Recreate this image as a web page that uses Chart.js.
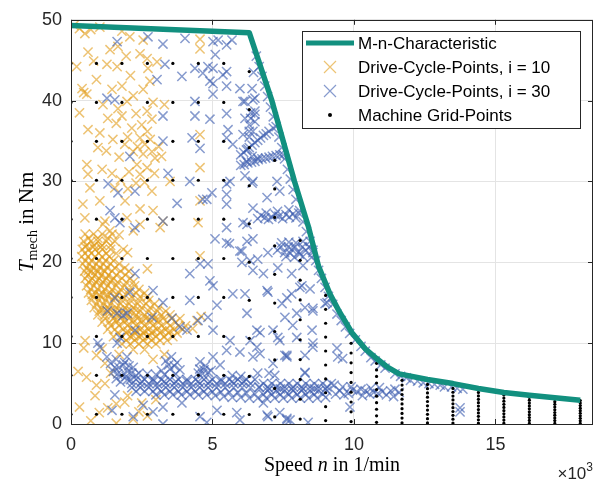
<!DOCTYPE html>
<html>
<head>
<meta charset="utf-8">
<script src="https://cdn.jsdelivr.net/npm/chart.js@4"></script>
<style>
  html, body { margin: 0; padding: 0; background: #fff; }
</style>
</head>
<body>
<canvas id="mnChart" width="605" height="481"></canvas>
<script>
// M-n characteristic (speed in 1/min x 10^3, torque in Nm)
const charSpeed  = [0, 6.3, 7.1, 7.9, 8.4, 8.75, 9.15, 9.5, 9.93, 10.4, 10.8, 11.2, 11.6, 12.6, 13.5, 14.4, 15.3, 16.2, 17.1, 18.0];
const charTorque = [49.3, 48.4, 40, 30, 24.3, 19.5, 16.1, 13.8, 11.3, 9.3, 8.1, 7.0, 6.2, 5.5, 5.0, 4.4, 3.9, 3.55, 3.25, 2.95];

// machine grid: speed columns, top torque per column, relative torque rows
const gridSpeeds = [0, 0.9, 1.8, 2.7, 3.6, 4.5, 5.4, 6.3, 7.2, 8.1, 9.0, 9.9, 10.8, 11.7, 12.6, 13.5, 14.4, 15.3, 16.2, 17.1, 18.0];
const gridTops   = [44.6, 44.6, 44.6, 44.6, 44.6, 44.6, 44.6, 43.6, 32.6, 22.7, 15.9, 11.2, 7.5, 5.4, 4.9, 4.4, 3.9, 3.6, 3.3, 3.1, 2.9];
const gridFractions = [0.027, 0.135, 0.243, 0.351, 0.459, 0.568, 0.676, 0.784, 0.892, 1.0];

// drive cycle points, gear ratio i = 10
const cycle10 = [
  [0.1,49.3],[0.3,48.9],[0.7,48.8],[0.49,48.3],[1.02,49.1],[1.8,48.6],[2.08,47.9],[2.55,47.5],[0.6,46.0],[1.38,46.3],
  [1.66,46.7],[2.44,45.8],[2.69,45.2],[4.56,46.4],[4.56,47.6],[0.2,44.2],[1.27,44.5],[1.63,44.2],[2.72,44.0],[3.04,44.8],
  [2.1,43.1],[0.9,42.6],[0.39,41.5],[0.56,40.8],[0.45,41.0],[1.45,41.4],[1.8,41.8],[2.55,41.4],[2.79,42.4],[1.13,39.5],
  [1.66,39.0],[1.98,39.9],[2.69,38.7],[1.8,38.1],[2.86,37.7],[3.3,39.5],[0.6,36.4],[1.02,36.0],[2.15,36.6],[1.48,35.2],
  [2.44,35.4],[2.61,34.6],[2.86,33.7],[2.97,32.9],[2.55,33.4],[2.2,33.7],[2.33,32.1],[2.69,31.7],[2.44,30.9],[2.8,35.2],
  [3.1,34.3],[1.9,34.6],[0.56,32.1],[0.6,30.9],[1.1,31.5],[1.45,31.0],[0.67,29.2],[1.55,29.2],[2.01,29.1],[2.86,28.8],
  [4.56,31.7],[4.56,35.8],[0.42,27.2],[1.02,27.6],[1.91,27.6],[2.44,26.6],[2.9,26.4],[0.49,25.5],[1.13,24.7],[1.2,25.1],
  [1.38,23.9],[1.98,25.5],[2.2,23.9],[2.44,24.7],[3.15,24.3],[3.25,25.1],[4.49,24.9],[4.56,27.6],[0.3,38.5],[3.5,30.0],
  [1.7,33.0],[2.3,38.4],[2.5,37.0],[2.0,35.5],[2.35,34.3],[2.7,36.2],[1.6,37.2],[2.2,40.6],[2.9,39.8],[1.25,33.8],
  [2.05,31.2],[2.6,29.9],[1.75,30.2],[0.95,34.2],[1.3,37.8],[2.95,31.0],[3.2,33.1],[0.8,44.9],[1.95,45.5],[2.3,29.8],
  [0.5,23.5],[0.8,23.5],[1.1,23.5],[1.45,23.5],
  [0.45,22.6],[0.7,22.6],[0.95,22.6],[1.25,22.6],[1.55,22.6],
  [0.4,21.6],[0.62,21.6],[0.85,21.6],[1.1,21.6],[1.4,21.6],[1.85,21.6],
  [0.38,20.7],[0.6,20.7],[0.85,20.7],[1.1,20.7],[1.35,20.7],
  [0.42,19.8],[0.65,19.8],[0.9,19.8],[1.15,19.8],[1.4,19.8],[1.7,19.8],
  [0.48,18.9],[0.72,18.9],[0.95,18.9],[1.2,18.9],[1.45,18.9],[1.75,18.9],[2.05,18.9],
  [0.5,18.0],[0.75,18.0],[1.0,18.0],[1.25,18.0],[1.5,18.0],[1.8,18.0],[2.1,18.0],
  [0.55,17.1],[0.8,17.1],[1.05,17.1],[1.3,17.1],[1.6,17.1],[1.9,17.1],[2.25,17.1],
  [0.62,16.2],[0.88,16.2],[1.12,16.2],[1.4,16.2],[1.7,16.2],[2.0,16.2],[2.3,16.2],[2.6,16.2],
  [0.72,15.3],[0.98,15.3],[1.22,15.3],[1.5,15.3],[1.8,15.3],[2.1,15.3],[2.4,15.3],[2.75,15.3],
  [0.82,14.4],[1.08,14.4],[1.32,14.4],[1.6,14.4],[1.9,14.4],[2.2,14.4],[2.5,14.4],[2.8,14.4],[3.1,14.4],
  [0.95,13.5],[1.2,13.5],[1.45,13.5],[1.7,13.5],[2.0,13.5],[2.3,13.5],[2.6,13.5],[2.9,13.5],[3.2,13.5],[3.5,13.5],
  [1.1,12.6],[1.35,12.6],[1.6,12.6],[1.9,12.6],[2.2,12.6],[2.5,12.6],[2.8,12.6],[3.1,12.6],[3.4,12.6],[3.7,12.6],
  [1.3,11.7],[1.55,11.7],[1.85,11.7],[2.15,11.7],[2.45,11.7],[2.75,11.7],[3.05,11.7],[3.35,11.7],[3.65,11.7],[3.95,11.7],
  [1.5,10.8],[1.8,10.8],[2.1,10.8],[2.4,10.8],[2.7,10.8],[3.0,10.8],[3.3,10.8],[3.6,10.8],
  [1.8,9.9],[2.1,9.9],[2.4,9.9],[2.7,9.9],[3.0,9.9],[2.2,9.2],[2.6,9.2],
  [0.62,23.0],[0.95,23.0],[1.3,23.0],
  [0.55,22.1],[0.82,22.1],[1.1,22.1],[1.4,22.1],
  [0.5,21.1],[0.72,21.1],[0.98,21.1],[1.25,21.1],[1.6,21.1],
  [0.5,20.2],[0.72,20.2],[0.98,20.2],[1.22,20.2],[1.5,20.2],
  [0.55,19.3],[0.78,19.3],[1.02,19.3],[1.28,19.3],[1.55,19.3],[1.9,19.3],
  [0.6,18.45],[0.85,18.45],[1.08,18.45],[1.32,18.45],[1.6,18.45],[1.92,18.45],
  [0.62,17.55],[0.88,17.55],[1.12,17.55],[1.4,17.55],[1.65,17.55],[1.95,17.55],[2.2,17.55],
  [0.7,16.65],[0.95,16.65],[1.2,16.65],[1.45,16.65],[1.75,16.65],[2.05,16.65],[2.4,16.65],
  [0.78,15.75],[1.05,15.75],[1.3,15.75],[1.55,15.75],[1.85,15.75],[2.15,15.75],[2.45,15.75],[2.7,15.75],
  [0.9,14.85],[1.15,14.85],[1.4,14.85],[1.75,14.85],[2.05,14.85],[2.35,14.85],[2.65,14.85],[2.95,14.85],
  [1.0,13.95],[1.3,13.95],[1.55,13.95],[1.85,13.95],[2.15,13.95],[2.45,13.95],[2.75,13.95],[3.05,13.95],[3.35,13.95],
  [1.2,13.05],[1.5,13.05],[1.75,13.05],[2.05,13.05],[2.35,13.05],[2.65,13.05],[2.95,13.05],[3.25,13.05],[3.55,13.05],[3.85,13.05],
  [1.4,12.15],[1.7,12.15],[2.0,12.15],[2.3,12.15],[2.6,12.15],[2.9,12.15],[3.2,12.15],[3.5,12.15],[3.8,12.15],[4.05,12.15],
  [1.65,11.25],[1.95,11.25],[2.25,11.25],[2.55,11.25],[2.85,11.25],[3.15,11.25],[3.45,11.25],[3.75,11.25],
  [1.95,10.35],[2.25,10.35],[2.55,10.35],[2.85,10.35],[3.15,10.35],[3.4,10.35],
  [0.5,21.9],[0.78,21.9],[1.05,21.9],[0.62,19.0],[0.88,19.0],[1.15,19.0],
  [0.7,17.8],[0.95,17.8],[1.2,17.8],[1.45,17.8],[0.75,16.0],[1.0,16.0],[1.28,16.0],[1.6,16.0],
  [1.1,14.1],[1.4,14.1],[1.7,14.1],[2.0,14.1],[2.3,14.1],[1.6,12.9],[1.9,12.9],[2.2,12.9],[2.5,12.9],[2.8,12.9],[3.1,12.9],
  [2.0,11.5],[2.3,11.5],[2.6,11.5],[2.9,11.5],[3.2,11.5],[3.5,11.5],[2.2,10.9],[2.5,10.9],[2.8,10.9],
  [4.45,12.8],[4.3,11.8],[4.6,13.3],[2.7,19.2],[2.0,21.2],[4.56,20.8],[1.7,23.4],
  [0.5,10.3],[0.45,9.4],[0.55,5.8],[0.9,4.8],[0.85,3.5],[1.0,1.4],[1.6,0.1],[1.9,2.7],[1.6,2.5],[2.4,1.5],
  [2.5,2.6],[0.3,2.1],[1.3,2.0],[0.9,8.5],[1.2,7.5],[1.4,6.3],[1.7,8.6],[2.0,3.5],[0.25,6.5],[0.7,0.4],
  [2.7,1.0],[3.0,3.0],[1.2,5.0],[2.2,0.6],[1.1,9.3],[2.9,8.0],[3.3,8.6]
];

// drive cycle points, gear ratio i = 30
const cycle30 = [
  [1.63,47.3],[2.72,47.9],[3.25,47.0],[4.03,47.7],[5.2,47.5],[5.5,46.9],[5.69,47.5],[5.02,47.3],[5.1,45.7],[3.32,44.5],
  [3.04,42.6],[3.92,43.0],[4.38,44.0],[4.66,43.4],[4.84,44.2],[4.91,42.4],[5.02,42.1],[5.02,40.8],[5.5,43.6],[5.5,41.8],
  [5.97,41.5],[6.15,39.9],[6.5,40.3],[6.5,38.7],[5.02,44.0],[5.37,43.2],[1.27,40.3],[1.55,40.1],[3.25,38.1],[4.38,39.9],
  [4.38,38.1],[4.91,37.7],[5.5,38.4],[5.55,36.4],[3.25,35.0],[4.28,35.4],[4.56,34.1],[5.5,35.4],[5.72,34.6],[6.08,39.9],
  [6.43,40.1],[6.15,37.8],[6.5,38.3],[6.08,35.8],[6.5,37.4],[6.43,36.2],[6.4,33.1],[6.6,32.9],
  [2.08,33.1],[3.43,31.0],[4.2,30.0],[1.31,29.7],[1.66,28.6],[2.26,28.8],[3.75,27.3],[4.66,27.8],[4.98,28.6],[5.5,28.4],
  [5.5,27.2],[5.62,30.0],[6.4,29.8],[6.43,26.7],[1.38,26.4],[1.55,25.5],[1.73,24.9],[2.26,24.3],[3.25,25.1],[5.5,24.3],
  [6.22,24.7],[7.28,30.0],[6.43,30.0],[5.5,29.7],[6.15,30.7],[7.38,28.8],[6.93,28.0],[6.08,24.9],[6.43,22.9],[6.04,21.4],
  [5.09,22.9],[4.8,27.8],
  [6.0,33.3],[6.2,33.9],[6.4,34.5],[6.6,35.1],[6.8,35.7],[7.0,36.2],[7.15,36.6],
  [6.1,33.6],[6.3,34.2],[6.5,34.8],[6.7,35.4],[6.9,35.9],
  [6.0,32.0],[6.25,32.3],[6.5,32.5],[6.75,32.8],[7.0,33.0],[7.25,33.2],[7.5,33.3],
  [6.12,32.1],[6.38,32.4],[6.62,32.7],[6.88,32.9],[7.12,33.1],[7.38,33.3],
  [6.2,32.5],[6.25,34.0],[6.3,35.5],[6.3,37.0],[6.35,38.5],[6.4,41.5],[6.45,43.5],[6.3,36.2],[6.35,37.8],
  [6.6,25.4],[6.85,25.5],[7.1,25.6],[7.35,25.7],[7.6,25.9],[7.85,26.0],[8.05,26.1],[6.9,26.1],[7.3,26.3],[7.7,26.5],
  [6.72,25.8],[6.98,25.3],[7.22,25.9],[7.48,25.4],[7.72,25.6],[7.95,25.5],
  [7.3,21.5],[7.55,21.2],[7.8,21.6],[8.05,21.3],[8.3,21.5],[8.55,21.2],[7.45,22.4],[7.7,22.5],[7.95,22.4],[8.2,22.6],
  [7.6,20.7],[7.9,20.6],[8.2,20.7],[8.5,20.6],[7.42,21.9],[7.68,21.9],[7.92,21.9],[8.18,21.9],[8.42,21.9],[7.75,21.1],[8.08,21.0],
  [6.55,45.5],[6.75,43.0],[6.95,40.5],[7.15,38.0],[7.35,35.5],[7.55,32.8],[7.75,30.3],[7.95,27.8],[8.2,25.0],[8.45,22.6],
  [8.65,20.2],[8.85,18.0],[9.1,15.8],[9.4,13.6],[9.7,12.0],[10.05,10.4],[10.4,9.0],[10.75,7.8],[11.1,6.9],[11.45,6.2],
  [11.85,5.7],[12.25,5.3],[12.65,5.0],[13.05,4.8],[13.45,4.6],[13.85,4.3],[8.55,21.5],[9.25,14.8],[9.85,11.2],[10.6,8.2],
  [12.0,5.4],[13.2,4.6],[6.65,44.2],[6.85,41.8],[7.05,39.2],[7.25,36.8],[7.45,34.2],[7.65,31.5],[7.85,29.0],[8.08,26.4],
  [8.32,23.8],[8.75,19.0],[8.98,16.9],[9.55,12.8],[10.25,9.6],[10.95,7.3],[11.65,5.9],[12.45,5.1],[12.85,4.9],[13.65,4.4],
  [7.63,15.6],[8.09,16.9],[8.45,16.7],[8.27,14.4],[7.56,13.2],[7.84,12.2],[8.55,14.0],[8.52,11.6],[7.98,10.7],[8.55,9.5],
  [8.27,8.5],[7.56,8.5],[8.27,6.3],[9.43,8.3],[9.6,8.1],[9.86,2.1],[13.75,1.5],[13.75,2.0],[9.05,15.0],[7.46,14.9],
  [8.38,0.2],[7.63,0.7],
  [2.26,18.6],[2.08,16.3],[1.55,15.6],[1.63,13.7],[1.28,14.0],[1.84,13.4],[1.98,13.7],[2.26,11.6],[1.73,10.7],[1.63,10.0],
  [2.86,13.2],[2.9,16.5],[3.25,15.0],[3.57,13.1],[3.85,12.0],[4.2,15.3],[4.2,18.6],[4.56,19.8],[4.84,19.8],[4.91,17.7],
  [5.02,17.1],[5.5,22.4],[5.6,22.3],[5.97,21.4],[6.22,22.6],[6.04,20.0],[6.43,19.0],[6.33,20.2],[6.8,18.6],[6.93,16.5],
  [5.72,16.1],[6.15,16.1],[6.22,13.7],[5.16,14.7],[4.84,13.2],[4.49,12.8],[5.02,11.6],[4.1,11.6],[5.62,10.3],[5.97,8.9],
  [6.33,10.3],[6.57,11.6],[6.57,9.5],[6.43,8.3],[7.38,10.3],[7.14,11.6],[7.63,8.3],[5.02,8.3],[5.27,7.3],[5.5,9.1],
  [4.56,7.7],[5.97,0.5],[5.86,1.4],[5.16,1.7],[4.56,0.9],[4.8,0.2],[3.92,2.6],[3.25,2.1],[2.9,1.5],[3.25,0.0],
  [2.55,2.3],[1.55,3.6],[1.45,1.7],[2.2,0.9],[7.38,1.4],[6.93,1.1],[7.63,0.5],[6.8,2.6],[6.6,6.3],[7.14,7.5],
  [1.98,8.3],[1.02,9.5],[0.95,10.0],[1.27,8.3],
  [6.96,16.3],[7.8,16.1],[7.98,13.7],[8.55,14.3],[8.55,10.0],[9.4,9.4],[8.27,6.4],[7.63,8.5],[6.68,11.3],[6.68,8.7],
  [7.31,10.7],[8.16,17.1],[8.2,19.6],[6.96,21.2],[6.6,20.4],[7.31,19.3],[7.8,18.6],[7.74,0.5],[6.96,0.9],[8.98,14.9],
  [1.4,7.5],[1.5,6.5],[1.6,8.0],[1.7,7.0],[1.8,6.0],[1.9,7.6],[2.0,6.5],[2.1,5.5],[2.2,7.0],[1.6,5.6],[2.3,6.0],[1.75,5.2],
  [1.55,7.0],[1.85,7.3],[2.05,7.2],[1.65,6.2],[1.95,5.9],[2.15,6.3],
  [2.0,5.5],[2.3,5.5],[2.6,5.5],[2.9,5.5],[3.2,5.5],[3.5,5.5],[3.8,5.5],[4.1,5.5],[4.4,5.5],[4.7,5.5],[5.0,5.5],[5.3,5.5],
  [5.6,5.5],[5.9,5.5],[6.2,5.5],[6.5,5.5],[6.8,5.0],[7.1,5.0],[7.4,5.0],[7.7,5.0],[8.0,5.0],[8.3,5.0],[8.6,5.0],[8.9,5.0],[9.2,5.0],
  [2.15,5.0],[2.45,5.0],[2.75,5.0],[3.05,5.0],[3.35,5.0],[3.65,5.0],[3.95,5.0],[4.25,5.0],[4.55,5.0],[4.85,5.0],[5.15,5.0],[5.45,5.0],
  [5.75,5.0],[6.05,5.0],[6.35,5.0],[6.65,4.6],[6.95,4.6],[7.25,4.6],[7.55,4.6],[7.85,4.6],[8.15,4.6],[8.45,4.6],[8.75,4.6],[9.05,4.6],
  [2.15,4.5],[2.45,4.5],[2.75,4.5],[3.05,4.5],[3.35,4.5],[3.65,4.5],[3.95,4.5],[4.25,4.5],[4.55,4.5],[4.85,4.5],[5.15,4.5],[5.45,4.5],
  [5.75,4.5],[6.05,4.5],[6.35,4.5],[6.65,4.5],[6.95,4.1],[7.25,4.1],[7.55,4.1],[7.85,4.1],[8.15,4.1],[8.45,4.1],[8.75,4.1],[9.05,4.1],
  [2.3,4.05],[2.6,4.05],[2.9,4.05],[3.2,4.05],[3.5,4.05],[3.8,4.05],[4.1,4.05],[4.4,4.05],[4.7,4.05],[5.0,4.0],[5.3,3.95],[5.6,3.9],
  [5.9,3.85],[6.2,3.8],[6.5,3.7],[6.8,3.65],[7.1,3.65],[7.4,3.65],[7.7,3.65],[8.0,3.65],[8.3,3.65],[8.6,3.65],[8.9,3.7],
  [3.0,3.6],[3.3,3.6],[3.6,3.6],[3.9,3.6],[4.2,3.6],[4.5,3.6],[4.8,3.6],[5.1,3.5],[5.4,3.4],[5.7,3.3],[6.0,3.3],[6.3,3.2],
  [6.6,3.2],[6.9,3.2],[7.2,3.2],[7.5,3.2],[7.8,3.2],[8.1,3.2],[8.4,3.2],[8.7,3.2],[9.0,3.3],
  [2.5,5.25],[2.9,5.25],[3.3,5.25],[3.7,5.25],[4.1,5.25],[4.5,5.25],[4.9,5.25],[5.3,5.25],[5.7,5.25],[6.1,5.25],
  [7.0,4.35],[7.4,4.35],[7.8,4.35],[8.2,4.35],[8.6,4.35],[9.0,4.35],
  [9.5,4.1],[9.8,3.8],[10.1,4.0],[10.4,4.1],[10.7,3.9],[11.0,4.0],[11.3,4.1],[11.6,3.9],[9.6,4.6],[10.3,3.5],
  [10.9,4.5],[9.3,4.8],[11.4,3.4],[9.9,4.6],[10.6,4.4],[9.35,3.7],[9.65,3.6],[9.95,4.2],[10.25,4.3],[10.55,3.7],
  [10.85,3.8],[11.15,3.6],[11.45,4.3],
  [3.35,7.8],[3.55,8.3],[3.75,7.6],[3.5,6.8],[3.85,6.7],[3.2,6.6],[4.55,6.8],[4.75,7.2],[4.95,6.6],[4.65,6.2],
  [3.45,7.3],[3.65,7.2],[3.3,6.1],[3.7,6.2],[4.5,6.3],[4.85,6.4],[4.7,6.7],
  [7.0,6.3],[7.2,6.0],[2.4,6.3],[2.7,6.2],[3.0,6.1],[6.0,5.9],[5.7,6.0]
];

const xTicks = [0, 5, 10, 15];
const yTicks = [0, 10, 20, 30, 40, 50];

const teal = '#12907f';
const orange = 'rgba(226,158,30,0.62)';
const blue = 'rgba(62,94,176,0.62)';
const axisColor = '#262626';

const charData = charSpeed.map((n, i) => ({ x: n, y: charTorque[i] }));
const gridData = [];
gridSpeeds.forEach((n, c) => {
  gridFractions.forEach(f => gridData.push({ x: n, y: gridTops[c] * f }));
});
const data10 = cycle10.map(p => ({ x: p[0], y: p[1] }));
const data30 = cycle30.map(p => ({ x: p[0], y: p[1] }));

function drawCross(ctx, x, y, r, color) {
  ctx.strokeStyle = color;
  ctx.lineWidth = 1.2;
  ctx.beginPath();
  ctx.moveTo(x - r, y - r); ctx.lineTo(x + r, y + r);
  ctx.moveTo(x - r, y + r); ctx.lineTo(x + r, y - r);
  ctx.stroke();
}

// box, inward ticks, axis labels and legend
const decorations = {
  id: 'decorations',
  afterDraw(chart) {
    const { ctx, chartArea: a, scales: { x, y } } = chart;
    ctx.save();
    ctx.strokeStyle = axisColor;
    ctx.lineWidth = 1;
    ctx.beginPath();
    xTicks.forEach(v => {
      const px = Math.round(x.getPixelForValue(v)) + 0.5;
      ctx.moveTo(px, a.bottom); ctx.lineTo(px, a.bottom - 5);
      ctx.moveTo(px, a.top); ctx.lineTo(px, a.top + 5);
    });
    yTicks.forEach(v => {
      const py = Math.round(y.getPixelForValue(v)) + 0.5;
      ctx.moveTo(a.left, py); ctx.lineTo(a.left + 5, py);
      ctx.moveTo(a.right, py); ctx.lineTo(a.right - 5, py);
    });
    ctx.stroke();
    ctx.strokeRect(Math.round(a.left) + 0.5, Math.round(a.top) + 0.5,
      Math.round(a.right - a.left) - 1, Math.round(a.bottom - a.top));

    // y label: T_mech in Nm
    ctx.fillStyle = '#000';
    ctx.save();
    ctx.translate(26, (a.top + a.bottom) / 2);
    ctx.rotate(-Math.PI / 2);
    const fT = 'italic 21px "Liberation Serif"', fSub = '14px "Liberation Serif"', fR = '21px "Liberation Serif"';
    ctx.font = fT; const wT = ctx.measureText('T').width;
    ctx.font = fSub; const wS = ctx.measureText('mech').width;
    ctx.font = fR; const wR = ctx.measureText(' in Nm').width;
    let sx = -(wT + wS + wR) / 2;
    ctx.textBaseline = 'alphabetic';
    ctx.font = fT; ctx.fillText('T', sx, 7); sx += wT;
    ctx.font = fSub; ctx.fillText('mech', sx, 11); sx += wS;
    ctx.font = fR; ctx.fillText(' in Nm', sx, 7);
    ctx.restore();

    // x label: Speed n in 1/min
    const fX = '20px "Liberation Serif"', fXi = 'italic 20px "Liberation Serif"';
    ctx.font = fX; const w1 = ctx.measureText('Speed ').width;
    ctx.font = fXi; const w2 = ctx.measureText('n').width;
    ctx.font = fX; const w3 = ctx.measureText(' in 1/min').width;
    let lx = (a.left + a.right) / 2 - (w1 + w2 + w3) / 2;
    const ly = 471;
    ctx.font = fX; ctx.fillText('Speed ', lx, ly); lx += w1;
    ctx.font = fXi; ctx.fillText('n', lx, ly); lx += w2;
    ctx.font = fX; ctx.fillText(' in 1/min', lx, ly);

    // x exponent
    ctx.fillStyle = axisColor;
    ctx.font = '12px "Liberation Sans"'; const wE = ctx.measureText('3').width;
    ctx.font = '17px "Liberation Sans"'; const wB = ctx.measureText('\u00d710').width;
    ctx.fillText('\u00d710', a.right - wE - wB, 479);
    ctx.font = '12px "Liberation Sans"'; ctx.fillText('3', a.right - wE, 471);

    // legend
    const bx = 302.5, by = 31.5, bw = 278, bh = 97;
    ctx.fillStyle = '#fff';
    ctx.fillRect(bx, by, bw, bh);
    ctx.strokeStyle = axisColor; ctx.lineWidth = 1;
    ctx.strokeRect(bx, by, bw, bh);
    const rows = [43, 67, 91, 115];
    const labels = ['M-n-Characteristic', 'Drive-Cycle-Points, i = 10', 'Drive-Cycle-Points, i = 30', 'Machine Grid-Points'];
    ctx.strokeStyle = teal; ctx.lineWidth = 5;
    ctx.beginPath(); ctx.moveTo(306, rows[0]); ctx.lineTo(354, rows[0]); ctx.stroke();
    drawCross(ctx, 330, rows[1], 6, orange);
    drawCross(ctx, 330, rows[2], 6, blue);
    ctx.fillStyle = '#000';
    ctx.beginPath(); ctx.arc(330, rows[3], 2, 0, Math.PI * 2); ctx.fill();
    ctx.font = '17px "Liberation Sans"';
    ctx.textBaseline = 'middle';
    labels.forEach((t, i) => ctx.fillText(t, 358, rows[i] + 1));
    ctx.restore();
  }
};

const tickFont = { family: 'Liberation Sans', size: 18 };

new Chart(document.getElementById('mnChart'), {
  type: 'scatter',
  data: {
    datasets: [
      {
        label: 'M-n-Characteristic', type: 'line', data: charData,
        borderColor: teal, borderWidth: 5.5, pointRadius: 0, showLine: true,
        fill: false, tension: 0, borderJoinStyle: 'round', order: 0
      },
      {
        label: 'Machine Grid-Points', data: gridData, pointStyle: 'circle',
        pointRadius: 1.6, backgroundColor: '#000', borderWidth: 0, order: 1
      },
      {
        label: 'Drive-Cycle-Points, i = 30', data: data30, pointStyle: 'crossRot',
        pointRadius: 6.5, borderColor: blue, borderWidth: 1.5, order: 2
      },
      {
        label: 'Drive-Cycle-Points, i = 10', data: data10, pointStyle: 'crossRot',
        pointRadius: 6.5, borderColor: orange, borderWidth: 1.5, order: 3
      }
    ]
  },
  options: {
    responsive: false,
    animation: false,
    layout: { padding: { top: 17, right: 12, left: 0, bottom: 0 } },
    plugins: { legend: { display: false }, tooltip: { enabled: false } },
    scales: {
      x: {
        type: 'linear', min: 0, max: 18.45,
        afterFit: s => { s.height = 57; },
        border: { display: false },
        grid: { color: '#e4e4e4', drawTicks: false },
        ticks: { stepSize: 5, includeBounds: false, padding: 10, maxRotation: 0, color: axisColor, font: tickFont }
      },
      y: {
        min: 0, max: 50,
        afterFit: s => { s.width = 71; },
        border: { display: false },
        grid: { color: '#e4e4e4', drawTicks: false },
        ticks: { stepSize: 10, padding: 9, color: axisColor, font: tickFont }
      }
    }
  },
  plugins: [decorations]
});
</script>
</body>
</html>
